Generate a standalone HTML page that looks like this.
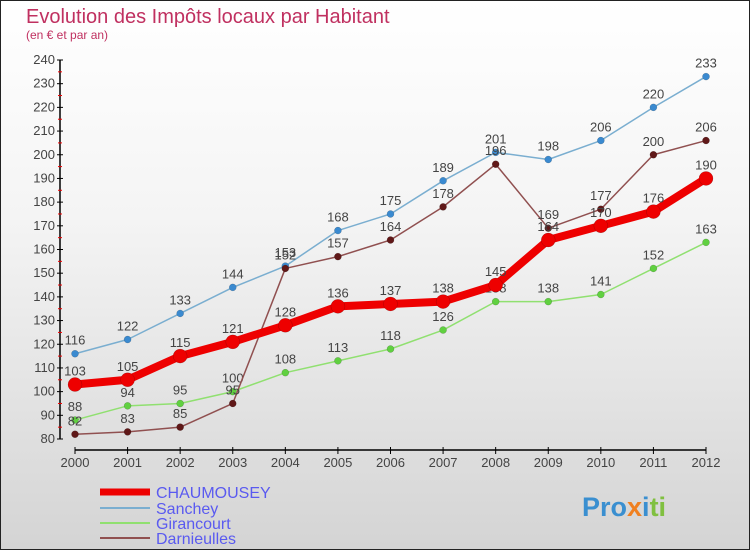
<!DOCTYPE html>
<html><head><meta charset="utf-8"><style>
body{margin:0;width:750px;height:550px;overflow:hidden;font-family:"Liberation Sans","DejaVu Sans",sans-serif}
#wrap{position:absolute;left:0;top:0;width:748px;height:548px;border:1px solid #222;background:linear-gradient(#fff,#f4f4f4 40%,#d4d4d4)}
</style></head><body>
<div id="wrap">
<svg id="chart" width="750" height="550" style="position:absolute;left:-1px;top:-1px">
<text x="26" y="23" font-size="20" fill="#c03060">Evolution des Impôts locaux par Habitant</text>
<text x="26" y="39" font-size="12" fill="#c03060">(en € et par an)</text>
<g id="axes"></g><g id="series"></g>
<g>
<line x1="100" y1="492" x2="150" y2="492" stroke="#e00" stroke-width="7"/><text x="156" y="498" font-size="16" fill="#5a5af0">CHAUMOUSEY</text>
<line x1="100" y1="508" x2="150" y2="508" stroke="#7aaed0" stroke-width="2"/><text x="156" y="514" font-size="16" fill="#5a5af0">Sanchey</text>
<line x1="100" y1="523" x2="150" y2="523" stroke="#90e070" stroke-width="2"/><text x="156" y="529" font-size="16" fill="#5a5af0">Girancourt</text>
<line x1="100" y1="538" x2="150" y2="538" stroke="#905050" stroke-width="2"/><text x="156" y="544" font-size="16" fill="#5a5af0">Darnieulles</text>
</g>
<text x="582" y="516" font-size="27" font-weight="bold"><tspan fill="#3a8fd0">Pro</tspan><tspan fill="#f08020">x</tspan><tspan fill="#3a8fd0">i</tspan><tspan fill="#80c040">ti</tspan></text>
</svg></div>
<script>
const years=[2000,2001,2002,2003,2004,2005,2006,2007,2008,2009,2010,2011,2012];
const yTicks=[80,90,100,110,120,130,140,150,160,170,180,190,200,210,220,230,240];
const chaumousey=[103,105,115,121,128,136,137,138,145,164,170,176,190];
const sanchey=[116,122,133,144,153,168,175,189,201,198,206,220,233];
const girancourt=[88,94,95,100,108,113,118,126,138,138,141,152,163];
const darnieulles=[82,83,85,95,152,157,164,178,196,169,177,200,206];
const NS="http://www.w3.org/2000/svg";
const X=i=>75+i*(706-75)/12;
const Y=v=>439-(v-80)*(439-60)/160;
function mk(t,a,p){const e=document.createElementNS(NS,t);for(const k in a)e.setAttribute(k,a[k]);p.appendChild(e);return e;}
const ax=document.getElementById('axes');
const yl=mk('line',{x1:60,y1:60,x2:60,y2:439,stroke:'#000','stroke-width':1.5},ax);


yTicks.forEach(v=>{mk('line',{x1:57,x2:63,y1:Y(v),y2:Y(v),stroke:'#000'},ax);
 if(v<240)mk('line',{x1:58,x2:62,y1:Y(v+5),y2:Y(v+5),stroke:'#e00'},ax);
 const t=mk('text',{x:55,y:Y(v)+4,'font-size':13,fill:'#444','text-anchor':'end'},ax);t.textContent=v;
 
 });
const xl=mk('line',{x1:75,y1:450,x2:706,y2:450,stroke:'#000','stroke-width':1.5},ax);


years.forEach((y,i)=>{mk('line',{x1:X(i),x2:X(i),y1:447,y2:454,stroke:'#000'},ax);
 const t=mk('text',{x:X(i),y:467,'font-size':13,fill:'#444','text-anchor':'middle'},ax);t.textContent=y;
 
 });
const sg=document.getElementById('series');
function draw(data,name,col,dot,w,r){
 const g=mk('g',{},sg);
 
 
 mk('polyline',{points:data.map((v,i)=>X(i)+','+Y(v)).join(' '),fill:'none',stroke:col,'stroke-width':w,'stroke-linejoin':'round'},g);
 data.forEach((v,i)=>{const c=mk('circle',{cx:X(i),cy:Y(v),r:r,fill:dot,stroke:'#0004','stroke-width':0.5},g);
  
  
  const t=mk('text',{x:X(i),y:Y(v)-9,'font-size':13,fill:'#444','text-anchor':'middle'},g);t.textContent=v;
  
  });
}
draw(sanchey,'sanchey','#7aaed0','#3a8ad0',1.5,3.5);
draw(girancourt,'girancourt','#90e070','#60d040',1.5,3.5);
draw(darnieulles,'darnieulles','#905050','#601818',1.5,3.5);
draw(chaumousey,'chaumousey','#e00','#e00',8,7);
</script>
</body></html>
